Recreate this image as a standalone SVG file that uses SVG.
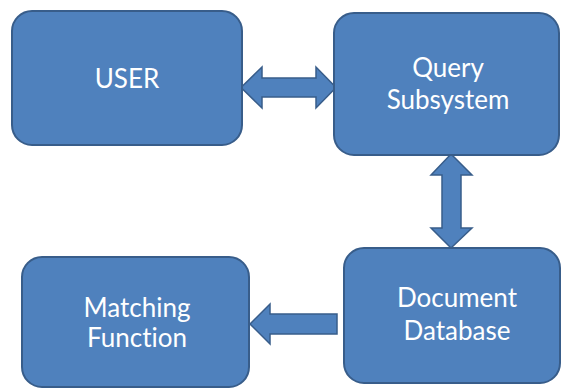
<svg xmlns="http://www.w3.org/2000/svg" width="561" height="389" viewBox="0 0 561 389">
<style>
.box{fill:#4F81BD;stroke:#385D8A;stroke-width:2}
.arr{fill:#4F81BD;stroke:#385D8A;stroke-width:1.5;stroke-linejoin:miter}
.lbl{font-family:Lato,"Liberation Sans",sans-serif;font-size:26px;fill:#FFFFFF;text-anchor:middle;font-variant-ligatures:none;font-feature-settings:"liga" 0,"dlig" 0}
</style>
<rect width="561" height="389" fill="#FFFFFF"/>
<g id="connectors">
<polygon class="arr" points="241,87.5 262,67 262,78 316,78 316,67 336,87.5 316,108 316,97 262,97 262,108"/>
<polygon class="arr" points="451,154 472,175 461,175 461,228 472,228 451,248 431,228 442,228 442,175 431,175"/>
<polygon class="arr" points="250,324 270,304 270,314 337,314 337,334 270,334 270,344"/>
</g>
<g id="user">
<rect class="box" x="12" y="11" width="230" height="134" rx="20"/>
<text class="lbl" x="127" y="88">USER</text>
</g>
<g id="query">
<rect class="box" x="334" y="13" width="225" height="142" rx="20"/>
<text class="lbl" x="448" y="77">Query</text>
<text class="lbl" x="448" y="109">Subsystem</text>
</g>
<g id="document">
<rect class="box" x="344" y="248" width="216" height="135" rx="20"/>
<text class="lbl" x="457" y="307">Document</text>
<text class="lbl" x="457" y="340">Database</text>
</g>
<g id="matching">
<rect class="box" x="22" y="257" width="227" height="130" rx="20"/>
<text class="lbl" x="137" y="317">Matching</text>
<text class="lbl" x="137" y="347">Function</text>
</g>
</svg>
